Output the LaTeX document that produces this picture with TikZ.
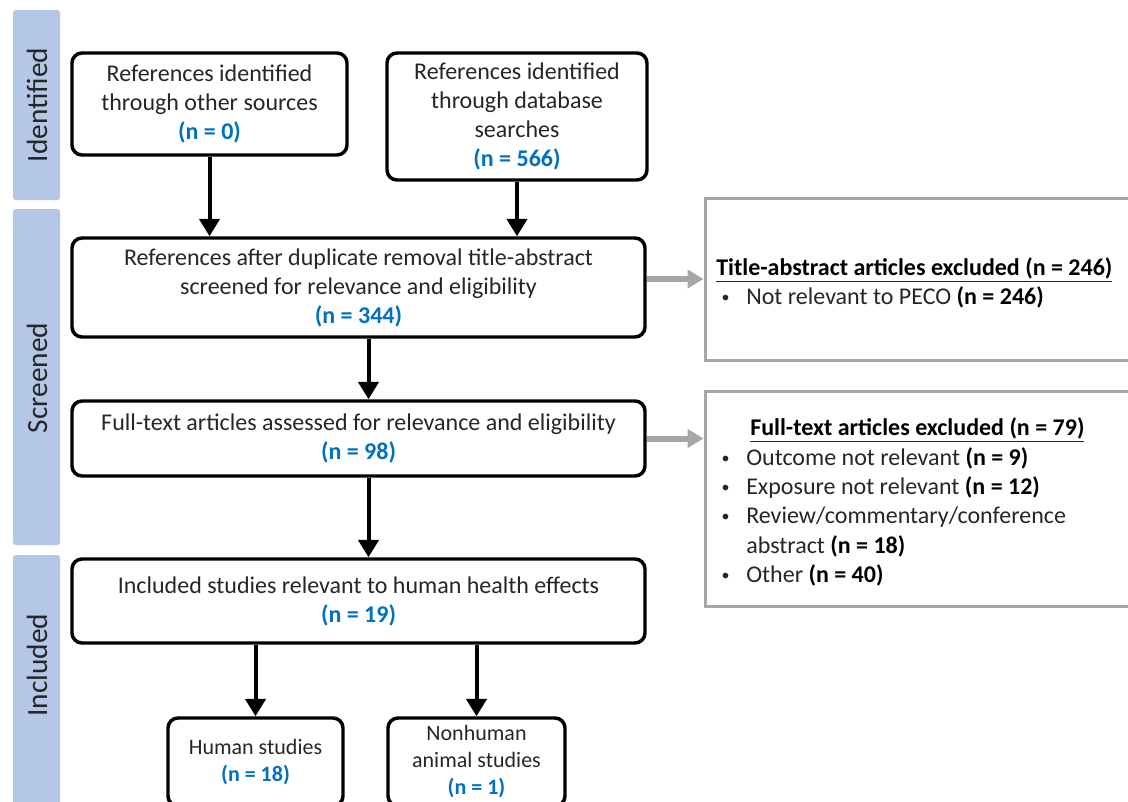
\documentclass[tikz,border=0pt]{standalone}
\usepackage{fontspec}
\setmainfont{Carlito}
\usetikzlibrary{arrows.meta,calc}
\definecolor{barblue}{RGB}{180,199,231}
\definecolor{nblue}{RGB}{0,112,192}
\definecolor{txt}{RGB}{38,38,38}
\definecolor{gbox}{RGB}{166,166,166}
\newcommand{\nn}[1]{{\color{nblue}\bfseries #1}}
\newcommand{\nb}[1]{{\color{black}\bfseries #1}}
\newcommand{\bul}{\makebox[22.5pt][l]{\hspace*{4pt}\raisebox{1.5pt}{\fontsize{12}{12}\selectfont\textbullet}}}
\begin{document}
\begin{tikzpicture}[x=0.75pt,y=-0.75pt,
  box/.style={draw=black,line width=2.6pt,rounded corners=7.5pt,fill=white,align=center,text=txt,font=\fontsize{18}{21.75}\selectfont,inner sep=0pt},
  sbox/.style={box,font=\fontsize{16.5}{20.25}\selectfont},
  xbox/.style={draw=gbox,line width=2.25pt,fill=white,inner sep=0pt},
  xtext/.style={align=left,text=txt,font=\fontsize{18}{22}\selectfont,inner sep=0pt},
  arr/.style={line width=3pt,-{Triangle[width=15pt,length=13pt]}},
  garr/.style={draw=gbox,line width=4.5pt,-{Triangle[width=13.5pt,length=12pt]}},
  barbox/.style={fill=barblue,rounded corners=2pt,inner sep=0pt,minimum height=35.25pt,rotate=90},
  barlabel/.style={rotate=90,font=\fontsize{22}{26}\selectfont,text=txt,inner sep=0pt}
]
\useasboundingbox (0,0) rectangle (1128,801);
\clip (0,0) rectangle (1128,801);

% phase bars
\node[barbox,minimum width=142.5pt] (bar1) at (36.5,105) {};
\node[barbox,minimum width=252pt] (bar2) at (36.5,377) {};
\node[barbox,minimum width=191.25pt] (bar3) at (36.5,682.5) {};
\node[barlabel] (l1) at (37,105) {Identified};
\node[barlabel] (l2) at (37,378) {Screened};
\node[barlabel] (l3) at (37,665) {Included};

% main boxes
\node[box,minimum width=206.25pt,minimum height=76.5pt] (A) at (209.5,104)
  {References identified\\through other sources\\\nn{(n = 0)}};
\node[box,minimum width=195pt,minimum height=95.25pt] (B) at (517,116.5)
  {References identified\\through database\\searches\\\nn{(n = 566)}};
\node[box,minimum width=429.75pt,minimum height=74.25pt] (C) at (358.5,287.5)
  {References after duplicate removal title-abstract\\screened for relevance and eligibility\\\nn{(n = 344)}};
\node[box,minimum width=429.75pt,minimum height=56.25pt] (D) at (358.5,438.5)
  {Full-text articles assessed for relevance and eligibility\\\nn{(n = 98)}};
\node[box,minimum width=429.75pt,minimum height=63pt] (E) at (358.5,601)
  {Included studies relevant to human health effects\\\nn{(n = 19)}};
\node[sbox,minimum width=131.25pt,minimum height=66pt] (F) at (255.5,762)
  {Human studies\\\nn{(n = 18)}};
\node[sbox,minimum width=132.75pt,minimum height=66pt] (G) at (476.5,762)
  {Nonhuman\\animal studies\\\nn{(n = 1)}};

% exclusion boxes
\node[xbox,minimum width=333.75pt,minimum height=121.5pt] (R1) at (927.5,279) {};
\node[xbox,minimum width=333.75pt,minimum height=161.25pt] (R2) at (927.5,498.5) {};
\node[xtext,anchor=west] (T1) at (716,283)
  {\underline{\textbf{\color{black}Title-abstract articles excluded (n = 246)}}\\
   \bul Not relevant to PECO \nb{(n = 246)}};
\node[xtext,anchor=west] (T2) at (716,502)
  {\hspace*{25.5pt}\underline{\textbf{\color{black}Full-text articles excluded (n = 79)}}\\
   \bul Outcome not relevant \nb{(n = 9)}\\
   \bul Exposure not relevant \nb{(n = 12)}\\
   \bul Review/commentary/conference\\
   \hspace*{22.5pt}abstract \nb{(n = 18)}\\
   \bul Other \nb{(n = 40)}};

% connectors
\draw[arr] (A.south) -- (A.south |- C.north);
\draw[arr] (B.south) -- (B.south |- C.north);
\draw[arr] ([xshift=7.5pt]C.south) -- ([xshift=7.5pt]D.north);
\draw[arr] ([xshift=7.5pt]D.south) -- ([xshift=7.5pt]E.north);
\draw[arr] (F.north |- E.south) -- (F.north);
\draw[arr] (G.north |- E.south) -- (G.north);
\draw[garr] (C.east |- R1.west) -- (R1.west);
\draw[garr] (D.east) -- (D.east -| R2.west);
\end{tikzpicture}
\end{document}
